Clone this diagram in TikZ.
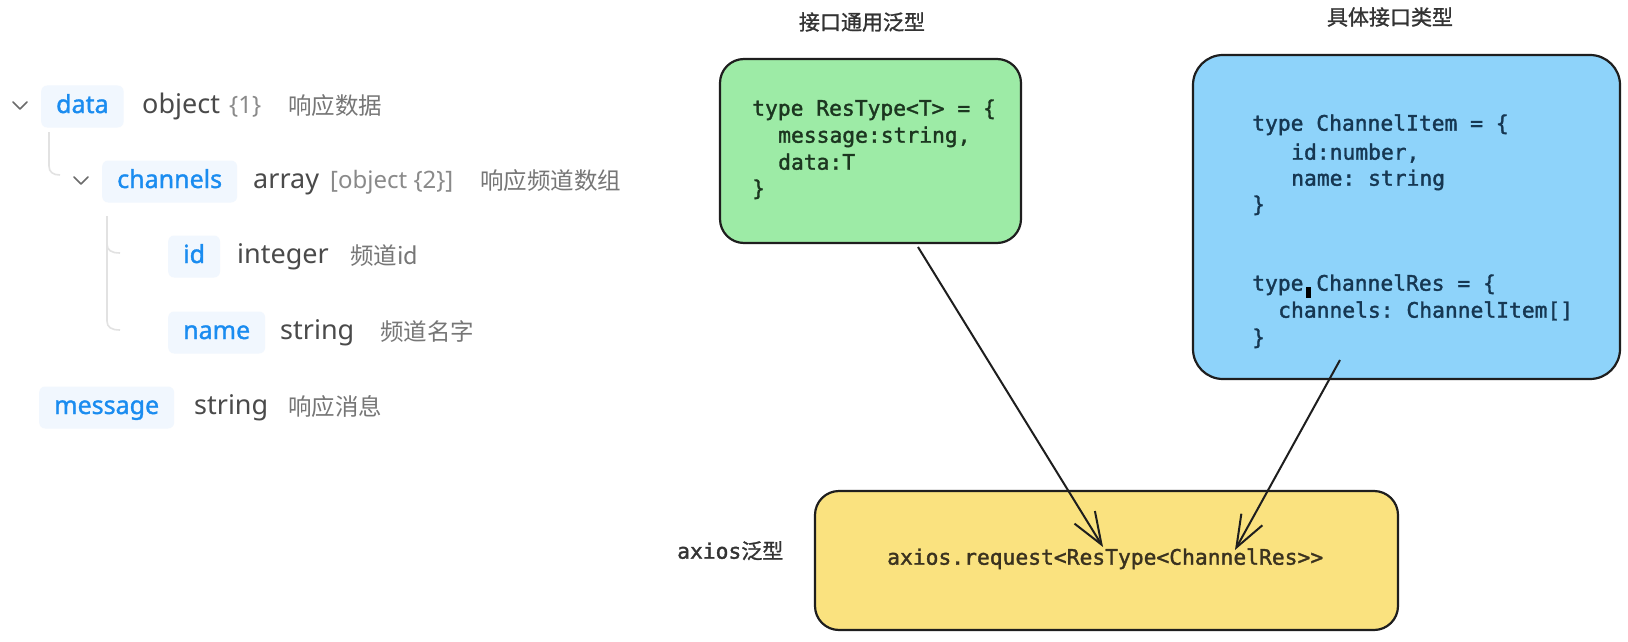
\documentclass[tikz,border=0pt]{standalone}
\usepackage{fontspec}
\setmainfont{Noto Sans}
\setmonofont{DejaVu Sans Mono}
\newfontfamily\cjk{Noto Sans CJK SC}
\newfontfamily\keyfont{Noto Sans}[FakeBold=1.3]
\newfontfamily\codefont{DejaVu Sans Mono}[FakeBold=1.6]
\newfontfamily\cjkcode{Noto Sans CJK SC}[FakeBold=1.2]
\usetikzlibrary{arrows.meta}
\definecolor{keyblue}{HTML}{1A8CF0}
\definecolor{pillbg}{HTML}{F1F7FE}
\definecolor{typegray}{HTML}{4A4A4A}
\definecolor{subgray}{HTML}{8A8A8A}
\definecolor{descgray}{HTML}{767676}
\definecolor{treeline}{HTML}{E2E2E2}
\definecolor{chev}{HTML}{6B6B6B}
\definecolor{gfill}{HTML}{9DEBA6}
\definecolor{bfill}{HTML}{8ED3FA}
\definecolor{yfill}{HTML}{FAE27F}
\definecolor{edge}{HTML}{1E1E1E}
\definecolor{gtext}{HTML}{1C3620}
\definecolor{btext}{HTML}{163752}
\definecolor{ytext}{HTML}{3A321F}
\definecolor{titlec}{HTML}{333333}
\frenchspacing
\tikzset{
  pill/.style={fill=pillbg, rounded corners=6pt, inner xsep=15pt, inner ysep=0pt,
    minimum height=42pt, anchor=base west, text=keyblue,
    font=\keyfont\fontsize{25}{30}\selectfont, text height=18pt, text depth=5pt},
  typ/.style={anchor=base west, inner sep=0pt, text=typegray, font=\fontsize{27}{32}\selectfont},
  sub/.style={anchor=base west, inner sep=0pt, text=subgray, font=\fontsize{24}{28}\selectfont},
  desc/.style={anchor=base west, inner sep=0pt, text=descgray, font=\cjk\fontsize{23.5}{28}\selectfont},
  chevron/.style={draw=chev, line width=1.6pt, line cap=round, line join=round},
  tree/.style={draw=treeline, line width=1.6pt},
  card/.style={draw=edge, line width=2.2pt, inner sep=0pt},
  code/.style={anchor=mid west, inner sep=0pt, font=\codefont\fontsize{21.3}{26}\selectfont},
  title/.style={inner sep=0pt, text=titlec, font=\cjkcode\fontsize{21}{25}\selectfont},
  conn/.style={draw=edge, line width=2pt, -{Straight Barb[length=32pt,width=24pt,line width=2pt]}},
}
\begin{document}
\begin{tikzpicture}[x=1pt,y=-1pt]
\useasboundingbox[fill=white] (0,0) rectangle (1628,642);

% ---------- left tree (baselines = row y + 7) ----------
\draw[chevron] (13,102) -- (20,109) -- (27,102);
\node[pill] (kdata) at (41,113) {data};
\node[typ] (tdata) at (142,113) {object};
\node[sub] (sdata) at (229,113) {\{1\}};
\node[desc] (ddata) at (288,114) {响应数据};

\draw[tree] (49,132) -- (49,166) .. controls (49,172) and (53,175) .. (60,175);

\draw[chevron] (74,177) -- (81,184) -- (88,177);
\node[pill] (kch) at (102,188) {channels};
\node[typ] (tch) at (253,188) {array};
\node[sub] (sch) at (330,188) {[object \{2\}]};
\node[desc] (dch) at (480,189) {响应频道数组};

\draw[tree] (107,216) -- (107,321) .. controls (107,327) and (111,330) .. (120,330);
\draw[tree] (107,244) .. controls (107,250) and (111,253) .. (120,253);

\node[pill] (kid) at (168,263) {id};
\node[typ] (tid) at (237,263) {integer};
\node[desc] (did) at (350,264) {频道id};

\node[pill] (kname) at (168,339) {name};
\node[typ] (tname) at (280,339) {string};
\node[desc] (dname) at (380,340) {频道名字};

\node[pill] (kmsg) at (39,414) {message};
\node[typ] (tmsg) at (194,414) {string};
\node[desc] (dmsg) at (288,415) {响应消息};

% ---------- titles ----------
\node[title] (t1) at (862,22) {接口通用泛型};
\node[title] (t2) at (1390,17) {具体接口类型};
\node[anchor=mid west, inner sep=0pt, text=titlec] (t3) at (677,556)
  {\codefont\fontsize{21.3}{26}\selectfont axios\cjkcode\fontsize{21}{25}\selectfont 泛型};

% ---------- cards ----------
\node[card, fill=gfill, rounded corners=24pt, minimum width=301pt, minimum height=184pt] (green) at (870.5,151) {};
\node[card, fill=bfill, rounded corners=30pt, minimum width=427pt, minimum height=324pt] (blue) at (1406.5,217) {};
\node[card, fill=yfill, rounded corners=24pt, minimum width=583pt, minimum height=139pt] (yellow) at (1106.5,560.5) {};

% green code
\node[code, text=gtext] (g1) at (752,113) {type ResType<T> = \{};
\node[code, text=gtext] (g2) at (778,140) {message:string,};
\node[code, text=gtext] (g3) at (778,167) {data:T};
\node[code, text=gtext] (g4) at (752,193) {\}};

% blue code
\node[code, text=btext] (b1) at (1252,128) {type ChannelItem = \{};
\node[code, text=btext] (b2) at (1291,157) {id:number,};
\node[code, text=btext] (b3) at (1291,183) {name: string};
\node[code, text=btext] (b4) at (1252,209) {\}};
\node[code, text=btext] (b5) at (1252,288) {type ChannelRes = \{};
\node[code, text=btext] (b6) at (1278,315) {channels: ChannelItem[]};
\node[code, text=btext] (b7) at (1252,342) {\}};
\fill[black] (1306,287) rectangle (1311,298);

% yellow code
\node[code, text=ytext] (y1) at (887,562) {axios.request<ResType<ChannelRes>{}>};

% ---------- connectors ----------
\coordinate (gs) at (918,247);
\coordinate (gt) at (1103,547);
\coordinate (bs) at (1340,360);
\coordinate (bt) at (1235,550);
\draw[conn] (gs) -- (gt);
\draw[conn] (bs) -- (bt);
\end{tikzpicture}
\end{document}
